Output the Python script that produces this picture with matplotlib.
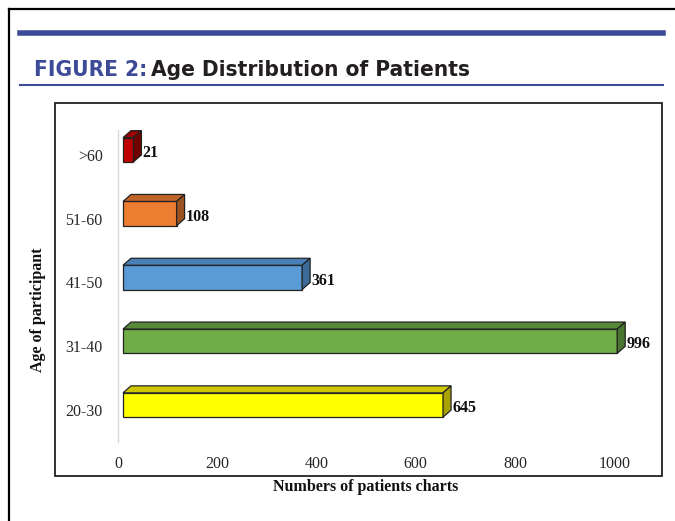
import matplotlib
matplotlib.use("Agg")
import matplotlib.pyplot as plt
from matplotlib.patches import Polygon, Rectangle
from matplotlib.lines import Line2D

# data
ages = ["20-30", "31-40", "41-50", "51-60", ">60"]
counts = [645, 996, 361, 108, 21]
xticks = [0, 200, 400, 600, 800, 1000]
front_cols = ["#ffff00", "#70ad47", "#5b9bd5", "#ed7d31", "#c00000"]
top_cols = ["#cfc800", "#568a36", "#4a80b8", "#c0652a", "#9c0000"]
side_cols = ["#a9a300", "#4a7530", "#3d6b99", "#9c5120", "#700000"]

W, H = 675, 521
fig = plt.figure(figsize=(W / 100, H / 100), dpi=100)

def fx(px):
    return px / W

def fy(py):
    return 1 - py / H

# outer page frame + blue rules
fig.add_artist(Line2D([fx(9), fx(W)], [fy(9), fy(9)], color="black", lw=1.6))
fig.add_artist(Line2D([fx(9), fx(9)], [fy(9), fy(H)], color="black", lw=1.6))
blue = "#3c4a98"
fig.add_artist(Line2D([fx(20), fx(663)], [fy(33), fy(33)], color=blue, lw=4))
fig.add_artist(Line2D([fx(20), fx(663)], [fy(85), fy(85)], color=blue, lw=1.5))

# inner chart box
fig.add_artist(Rectangle((fx(55), fy(476)), fx(662) - fx(55), fy(103) - fy(476),
                         transform=fig.transFigure, fill=False, ec="#222222", lw=1.3))

tfont = dict(family=["Liberation Sans Narrow", "DejaVu Sans"], fontstretch="condensed",
             fontsize=16.2, fontweight="bold")
t1 = fig.text(fx(34), fy(76), "FIGURE 2:", color=blue, va="baseline", **tfont)

# axes
axL, axR, axB, axT = 118, 640, 442, 130
ax = fig.add_axes([fx(axL), fy(axB), fx(axR) - fx(axL), fy(axT) - fy(axB)])
xmax = 1052
ymin, ymax = -0.5, 4.39
ax.set_xlim(0, xmax)
ax.set_ylim(ymin, ymax)

ax.annotate("Age Distribution of Patients", xy=(1, 0), xycoords=t1, xytext=(3, 0),
            textcoords="offset points", va="bottom", ha="left", color="#231f20",
            annotation_clip=False, **tfont)

pxx = (axR - axL) / xmax          # pixels per x unit
pxy = (axB - axT) / (ymax - ymin)  # pixels per y unit
x_off = 5 / pxx
dx, dy = 8 / pxx, 7 / pxy
bh = 0.38
shift = 0.08

ypos = list(range(len(ages)))
ax.barh([y + shift for y in ypos], counts, height=bh, left=x_off,
        color=front_cols, edgecolor="#222222", lw=0.9, zorder=3)
for y, v, tc, sc in zip(ypos, counts, top_cols, side_cols):
    yb, yt = y + shift - bh / 2, y + shift + bh / 2
    x0, x1 = x_off, x_off + v
    ax.add_patch(Polygon([(x0, yt), (x1, yt), (x1 + dx, yt + dy), (x0 + dx, yt + dy)],
                         closed=True, fc=tc, ec="#222222", lw=0.9, zorder=3))
    ax.add_patch(Polygon([(x1, yb), (x1 + dx, yb + dy), (x1 + dx, yt + dy), (x1, yt)],
                         closed=True, fc=sc, ec="#222222", lw=0.9, zorder=3))
    ax.text(x1 + dx + 1 / pxx, y + 0.03, str(v), ha="left", va="center",
            family="Liberation Serif", fontweight="bold", fontsize=11.5,
            color="#111111", clip_on=False, zorder=4)

for s in ["top", "right", "bottom"]:
    ax.spines[s].set_visible(False)
ax.spines["left"].set_color("#d9d9d9")
ax.spines["left"].set_linewidth(1)

ax.set_yticks(ypos)
ax.set_yticklabels(ages)
ax.set_xticks(xticks)
ax.set_xticklabels([str(t) for t in xticks])
ax.tick_params(axis="both", length=0, labelsize=11.5, colors="#262626")
ax.tick_params(axis="y", pad=11)
ax.tick_params(axis="x", pad=10)
for lab in ax.get_xticklabels() + ax.get_yticklabels():
    lab.set_family("Liberation Serif")

fig.text(fx(366), fy(487), "Numbers of patients charts", ha="center", va="center",
         family="Liberation Serif", fontweight="bold", fontsize=11.5, color="#111111")
fig.text(fx(38), fy(310), "Age of participant", ha="center", va="center", rotation=90,
         family="Liberation Serif", fontweight="bold", fontsize=11.5, color="#111111")

fig.savefig("out.png", dpi=100)
